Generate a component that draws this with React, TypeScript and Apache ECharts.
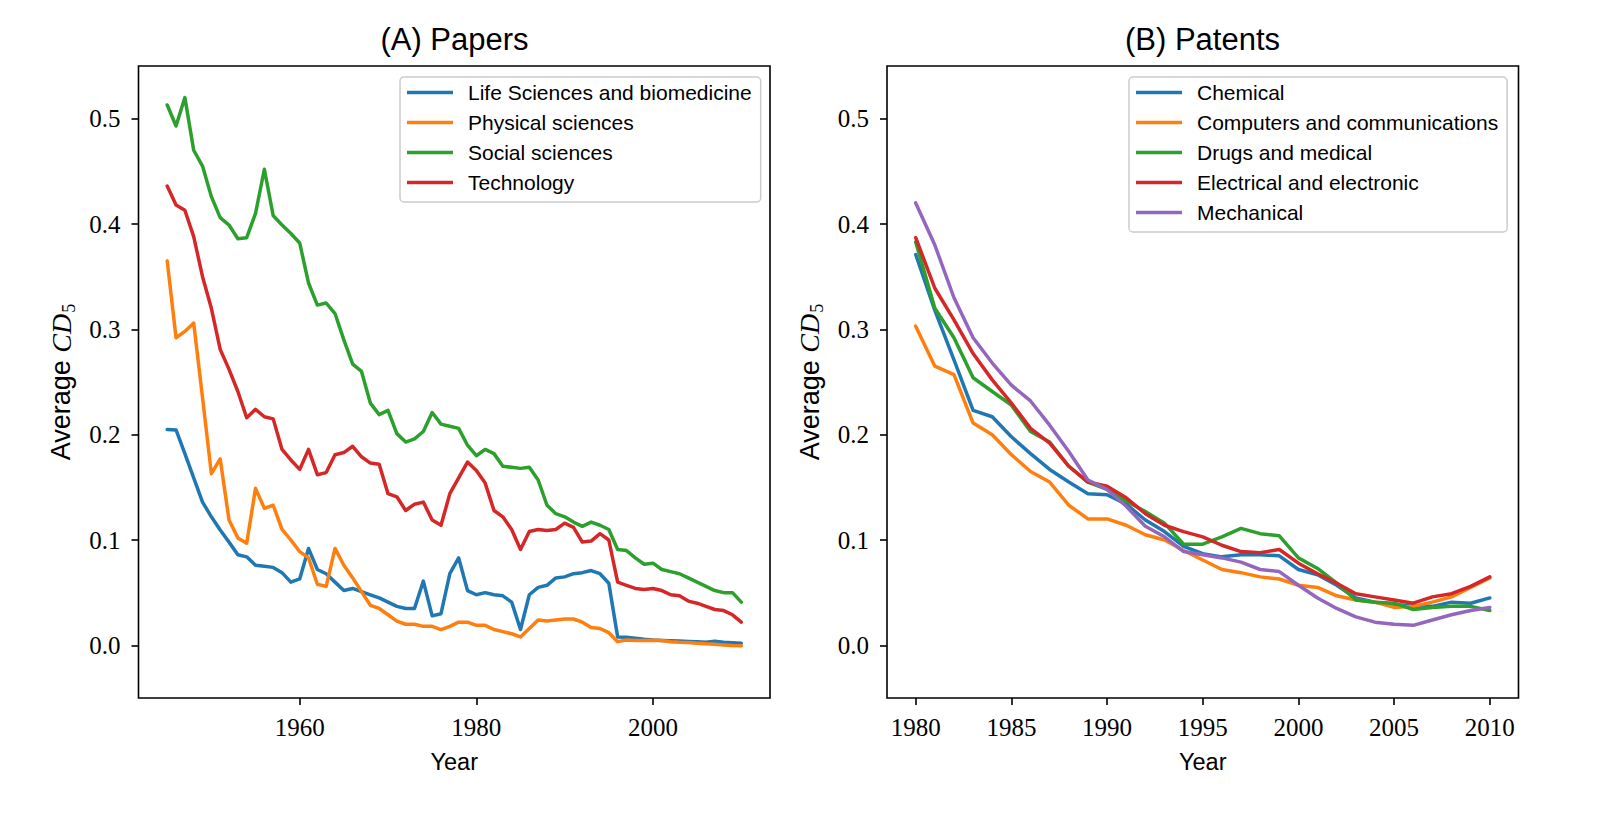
import React, { useEffect, useRef } from "react";
import * as echarts from "echarts";

// ---------- data ----------
const paperYears = [
  1945, 1946, 1947, 1948, 1949, 1950, 1951, 1952, 1953, 1954,
  1955, 1956, 1957, 1958, 1959, 1960, 1961, 1962, 1963, 1964,
  1965, 1966, 1967, 1968, 1969, 1970, 1971, 1972, 1973, 1974,
  1975, 1976, 1977, 1978, 1979, 1980, 1981, 1982, 1983, 1984,
  1985, 1986, 1987, 1988, 1989, 1990, 1991, 1992, 1993, 1994,
  1995, 1996, 1997, 1998, 1999, 2000, 2001, 2002, 2003, 2004,
  2005, 2006, 2007, 2008, 2009, 2010,
];
const lifeSciences = [
  0.205, 0.2045, 0.182, 0.159, 0.136, 0.122, 0.1095, 0.098, 0.086, 0.084,
  0.076, 0.075, 0.074, 0.069, 0.06, 0.063, 0.092, 0.072, 0.068, 0.06,
  0.052, 0.054, 0.051, 0.048, 0.045, 0.041, 0.037, 0.035, 0.035, 0.061,
  0.028, 0.03, 0.068, 0.083, 0.052, 0.048, 0.05, 0.048, 0.047, 0.041,
  0.015, 0.048, 0.055, 0.057, 0.064, 0.065, 0.068, 0.069, 0.071, 0.068,
  0.059, 0.008, 0.0076, 0.0067, 0.0057, 0.005, 0.0047, 0.0044, 0.004, 0.0037,
  0.0035, 0.003, 0.004, 0.003, 0.0025, 0.002,
];
const physicalSciences = [
  0.365, 0.292, 0.298, 0.306, 0.235, 0.163, 0.177, 0.119, 0.102, 0.097,
  0.149, 0.13, 0.133, 0.11, 0.1, 0.089, 0.083, 0.058, 0.056, 0.092,
  0.076, 0.064, 0.051, 0.038, 0.035, 0.029, 0.023, 0.02, 0.02, 0.018,
  0.018, 0.015, 0.018, 0.022, 0.022, 0.019, 0.019, 0.015, 0.013, 0.011,
  0.008, 0.016, 0.024, 0.023, 0.024, 0.025, 0.025, 0.022, 0.017, 0.016,
  0.012, 0.0035, 0.005, 0.0045, 0.0045, 0.0048, 0.0045, 0.0035, 0.003, 0.0027,
  0.002, 0.0014, 0.001, 0.0004, -0.0002, -0.0005,
];
const socialSciences = [
  0.513, 0.493, 0.52, 0.47, 0.455, 0.426, 0.406, 0.399, 0.386, 0.387,
  0.41, 0.452, 0.408, 0.399, 0.391, 0.382, 0.344, 0.323, 0.325, 0.315,
  0.29, 0.267, 0.26, 0.23, 0.219, 0.223, 0.201, 0.193, 0.196, 0.203,
  0.221, 0.21, 0.208, 0.206, 0.19, 0.18, 0.186, 0.182, 0.17, 0.169,
  0.168, 0.169, 0.157, 0.133, 0.125, 0.122, 0.117, 0.113, 0.117, 0.114,
  0.11, 0.091, 0.09, 0.083, 0.077, 0.078, 0.072, 0.07, 0.068, 0.064,
  0.06, 0.056, 0.052, 0.05, 0.05, 0.041,
];
const technology = [
  0.436, 0.418, 0.413, 0.388, 0.35, 0.32, 0.281, 0.262, 0.241, 0.216,
  0.224, 0.217, 0.215, 0.186, 0.176, 0.167, 0.186, 0.162, 0.164, 0.181,
  0.183, 0.189, 0.179, 0.173, 0.172, 0.144, 0.141, 0.128, 0.134, 0.136,
  0.119, 0.114, 0.144, 0.159, 0.174, 0.166, 0.154, 0.128, 0.122, 0.11,
  0.091, 0.108, 0.11, 0.109, 0.11, 0.116, 0.112, 0.098, 0.099, 0.106,
  0.1, 0.06, 0.057, 0.054, 0.053, 0.054, 0.052, 0.048, 0.047, 0.042,
  0.04, 0.037, 0.034, 0.033, 0.029, 0.022,
];

const patentYears = [
  1980, 1981, 1982, 1983, 1984, 1985, 1986, 1987, 1988, 1989,
  1990, 1991, 1992, 1993, 1994, 1995, 1996, 1997, 1998, 1999,
  2000, 2001, 2002, 2003, 2004, 2005, 2006, 2007, 2008, 2009,
  2010,
];
const chemical = [
  0.371, 0.318, 0.271, 0.223, 0.217, 0.198, 0.182, 0.167, 0.155, 0.144,
  0.143, 0.134, 0.119, 0.108, 0.094, 0.087, 0.084, 0.086, 0.086, 0.085,
  0.072, 0.067, 0.057, 0.045, 0.041, 0.039, 0.037, 0.037, 0.041, 0.04,
  0.045,
];
const computers = [
  0.303, 0.265, 0.257, 0.211, 0.2, 0.181, 0.165, 0.155, 0.133, 0.12,
  0.12, 0.114, 0.105, 0.1, 0.09, 0.081, 0.072, 0.069, 0.065, 0.063,
  0.057, 0.055, 0.047, 0.043, 0.041, 0.036, 0.037, 0.041, 0.046, 0.055,
  0.064,
];
const drugs = [
  0.383, 0.32, 0.292, 0.254, 0.241, 0.228, 0.203, 0.193, 0.17, 0.155,
  0.148, 0.137, 0.127, 0.116, 0.096, 0.096, 0.103, 0.111, 0.106, 0.104,
  0.083, 0.073, 0.059, 0.043, 0.041, 0.04, 0.034, 0.036, 0.037, 0.037,
  0.033,
];
const electrical = [
  0.387, 0.339, 0.309, 0.277, 0.252, 0.23, 0.206, 0.192, 0.17, 0.155,
  0.151, 0.14, 0.125, 0.114, 0.108, 0.103, 0.095, 0.089, 0.088, 0.091,
  0.078, 0.068, 0.059, 0.049, 0.046, 0.043, 0.04, 0.046, 0.049, 0.056,
  0.065,
];
const mechanical = [
  0.42, 0.38, 0.33, 0.292, 0.268, 0.247, 0.232, 0.209, 0.184, 0.157,
  0.148, 0.132, 0.113, 0.103, 0.089, 0.086, 0.083, 0.079, 0.072, 0.07,
  0.057, 0.045, 0.035, 0.027, 0.022, 0.02, 0.019, 0.024, 0.029, 0.033,
  0.036,
];

const paperNames = [
  "Life Sciences and biomedicine",
  "Physical sciences",
  "Social sciences",
  "Technology",
];
const patentNames = [
  "Chemical",
  "Computers and communications",
  "Drugs and medical",
  "Electrical and electronic",
  "Mechanical",
];
const paperSeries = [lifeSciences, physicalSciences, socialSciences, technology];
const patentSeries = [chemical, computers, drugs, electrical, mechanical];

const paperXTicks = [1960, 1980, 2000];
const patentXTicks = [1980, 1985, 1990, 1995, 2000, 2005, 2010];
const yTickValues = [0, 0.1, 0.2, 0.3, 0.4, 0.5];
const yTickLabels = ["0.0", "0.1", "0.2", "0.3", "0.4", "0.5"];

const colors = ["#1f77b4", "#ff7f0e", "#2ca02c", "#d62728", "#9467bd"];

// ---------- styles ----------
const SANS = "Liberation Sans, Arial, Helvetica, sans-serif";
const SERIF = "Liberation Serif, Times New Roman, serif";

function yLabel(v: number) {
  let best = 0;
  for (let i = 0; i < yTickValues.length; i++) {
    if (Math.abs(yTickValues[i] - v) < Math.abs(yTickValues[best] - v)) best = i;
  }
  return yTickLabels[best];
}

function makeXAxis(gridIndex: number, min: number, max: number, ticks: number[]) {
  return {
    gridIndex,
    type: "value",
    min,
    max,
    splitLine: { show: false },
    axisLine: { show: false, onZero: false },
    axisTick: {
      show: true,
      customValues: ticks,
      length: 7,
      inside: false,
      lineStyle: { color: "#000", width: 1.6 },
    },
    axisLabel: {
      customValues: ticks,
      margin: 17,
      fontFamily: SERIF,
      fontSize: 25,
      color: "#000",
      formatter: (v: number) => String(v),
    },
    name: "Year",
    nameLocation: "middle",
    nameGap: 52,
    nameTextStyle: { fontFamily: SANS, fontSize: 23.5, color: "#000" },
  };
}

function makeYAxis(gridIndex: number) {
  return {
    gridIndex,
    type: "value",
    min: -0.05,
    max: 0.55,
    splitLine: { show: false },
    axisLine: { show: false, onZero: false },
    axisTick: {
      show: true,
      customValues: yTickValues,
      length: 7,
      inside: false,
      lineStyle: { color: "#000", width: 1.6 },
    },
    axisLabel: {
      customValues: yTickValues,
      margin: 18,
      fontFamily: SERIF,
      fontSize: 25,
      color: "#000",
      formatter: (v: number) => yLabel(v),
    },
    name: "Average {i|CD}{s|5}",
    nameLocation: "middle",
    nameRotate: 90,
    nameGap: 61,
    nameTextStyle: {
      fontFamily: SANS,
      fontSize: 27,
      color: "#000",
      rich: {
        i: { fontFamily: SERIF, fontStyle: "italic", fontSize: 28, color: "#000" },
        s: {
          fontFamily: SERIF,
          fontSize: 18,
          color: "#000",
          verticalAlign: "top",
          padding: [15, 0, 0, 1],
        },
      },
    },
  };
}

function makeLegend(names: string[], left: number, padding: number[]) {
  return {
    data: names,
    orient: "vertical",
    left,
    top: 77,
    padding,
    itemGap: 9,
    itemWidth: 46,
    itemHeight: 3.4,
    icon: "rect",
    selectedMode: false,
    backgroundColor: "rgba(255,255,255,0.8)",
    borderColor: "#cccccc",
    borderWidth: 1.5,
    borderRadius: 4,
    textStyle: {
      fontFamily: SANS,
      fontSize: 21,
      lineHeight: 21,
      color: "#000",
      padding: [0, 0, 0, 10],
    },
  };
}

function lineSeries(name: string, years: number[], values: number[], idx: number, color: string) {
  return {
    type: "line",
    name,
    xAxisIndex: idx,
    yAxisIndex: idx,
    data: years.map((y, i) => [y, values[i]]),
    symbol: "none",
    showSymbol: false,
    color,
    lineStyle: { width: 3.5, color, join: "round", cap: "round" },
    itemStyle: { color },
    emphasis: { disabled: true },
  };
}

export default function App() {
  const ref = useRef<HTMLDivElement>(null);

  useEffect(() => {
    if (!ref.current) return;
    const chart = echarts.init(ref.current, undefined, { renderer: "svg" });

    const series: any[] = [];
    paperNames.forEach((n, i) => series.push(lineSeries(n, paperYears, paperSeries[i], 0, colors[i])));
    patentNames.forEach((n, i) => series.push(lineSeries(n, patentYears, patentSeries[i], 1, colors[i])));

    const option: any = {
      animation: false,
      backgroundColor: "#ffffff",
      title: [
        {
          text: "(A) Papers",
          left: 454.5,
          top: 24,
          textAlign: "center",
          padding: 0,
          textStyle: { fontFamily: SANS, fontSize: 31, fontWeight: "normal", color: "#000" },
        },
        {
          text: "(B) Patents",
          left: 1202.5,
          top: 24,
          textAlign: "center",
          padding: 0,
          textStyle: { fontFamily: SANS, fontSize: 31, fontWeight: "normal", color: "#000" },
        },
      ],
      grid: [
        {
          left: 138.5,
          top: 66,
          width: 631.5,
          height: 632,
          show: true,
          borderColor: "#000",
          borderWidth: 1.6,
          backgroundColor: "transparent",
        },
        {
          left: 887,
          top: 66,
          width: 631.5,
          height: 632,
          show: true,
          borderColor: "#000",
          borderWidth: 1.6,
          backgroundColor: "transparent",
        },
      ],
      xAxis: [
        makeXAxis(0, 1941.75, 2013.25, paperXTicks),
        makeXAxis(1, 1978.5, 2011.5, patentXTicks),
      ],
      yAxis: [makeYAxis(0), makeYAxis(1)],
      legend: [
        makeLegend(paperNames, 400, [5, 9, 9, 7]),
        makeLegend(patentNames, 1129, [5, 9, 9, 7]),
      ],
      series,
    };

    chart.setOption(option);
    return () => chart.dispose();
  }, []);

  return (
    <div
      ref={ref}
      style={{
        position: "absolute",
        left: 0,
        top: 0,
        width: "1600px",
        height: "813px",
        background: "#fff",
      }}
    />
  );
}
